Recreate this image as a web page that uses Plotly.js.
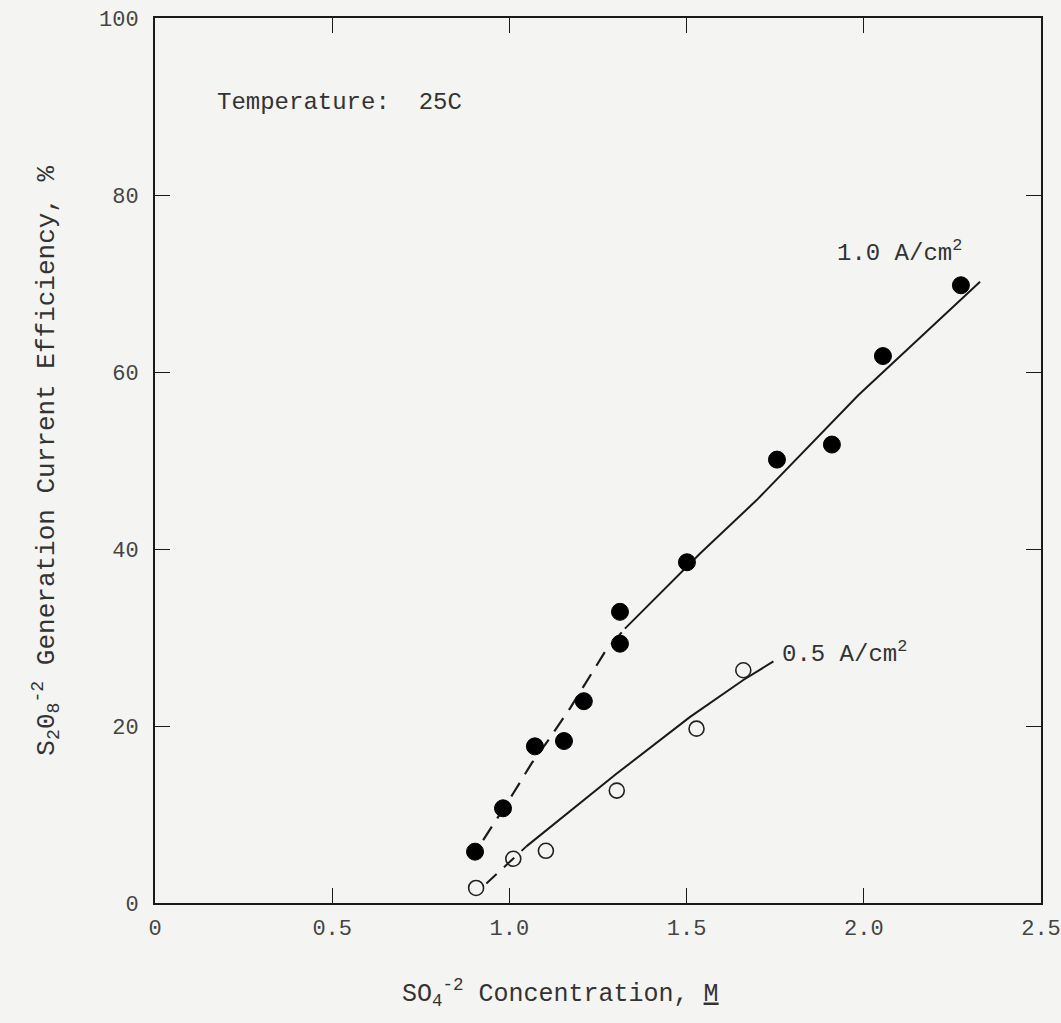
<!DOCTYPE html>
<html>
<head>
<meta charset="utf-8">
<script src="https://cdn.plot.ly/plotly-3.0.1.min.js"></script>
<style>
html,body{margin:0;padding:0;background:#f4f4f2;}
#chart{width:1061px;height:1023px;}
</style>
</head>
<body>
<div id="chart"></div>
<script>
// Measured points, 1.0 A/cm2 (filled circles)
const conc10 = [0.903, 0.982, 1.072, 1.154, 1.210, 1.312, 1.312, 1.501, 1.755, 1.910, 2.054, 2.274];
const eff10  = [5.8, 10.7, 17.7, 18.3, 22.8, 29.3, 32.9, 38.5, 50.1, 51.8, 61.8, 69.8];

// Measured points, 0.5 A/cm2 (open circles)
const conc05 = [0.906, 1.011, 1.103, 1.303, 1.528, 1.660];
const eff05  = [1.7, 5.0, 5.9, 12.7, 19.7, 26.3];

// Drawn curve, 1.0 A/cm2: dashed lower part, solid upper part
const curve10DashX = [0.926, 1.011, 1.063, 1.110, 1.171, 1.218, 1.270, 1.326];
const curve10DashY = [7.1, 12.4, 15.8, 18.4, 22.0, 25.0, 28.4, 31.0];
const curve10SolidX = [1.326, 1.472, 1.538, 1.697, 1.985, 2.328];
const curve10SolidY = [31.0, 36.9, 39.5, 45.5, 57.4, 70.2];

// Drawn curve, 0.5 A/cm2: short dashed start, then solid
const curve05DashX = [0.935, 1.048];
const curve05DashY = [2.2, 6.4];
const curve05SolidX = [1.048, 1.302, 1.509, 1.660, 1.745];
const curve05SolidY = [6.4, 14.6, 21.0, 25.2, 27.3];

const xTickVals = [0, 0.5, 1.0, 1.5, 2.0, 2.5];
const xTickText = ['0', '0.5', '1.0', '1.5', '2.0', '2.5'];
const yTickVals = [0, 20, 40, 60, 80, 100];
const yTickText = ['0', '20', '40', '60', '80', '100'];

const xTitle = 'SO<sub>4</sub><sup>-2</sup> Concentration, <u>M</u>';
const yTitle = 'S<sub>2</sub>0<sub>8</sub><sup>-2</sup> Generation Current Efficiency, %';

const ink = '#1a1a1a';
const txt = '#333333';
const fontFam = 'Liberation Mono, DejaVu Sans Mono, monospace';

const traces = [
  {x: curve10DashX, y: curve10DashY, mode: 'lines', line: {color: ink, width: 2.2, dash: '16px,10px'}, hoverinfo: 'skip', showlegend: false},
  {x: curve10SolidX, y: curve10SolidY, mode: 'lines', line: {color: ink, width: 2}, hoverinfo: 'skip', showlegend: false},
  {x: curve05DashX, y: curve05DashY, mode: 'lines', line: {color: ink, width: 2, dash: '14px,10px'}, hoverinfo: 'skip', showlegend: false},
  {x: curve05SolidX, y: curve05SolidY, mode: 'lines', line: {color: ink, width: 2}, hoverinfo: 'skip', showlegend: false},
  {x: conc10, y: eff10, mode: 'markers', name: '1.0 A/cm²',
   marker: {symbol: 'circle', size: 17, color: '#000', line: {color: '#000', width: 1}}, showlegend: false},
  {x: conc05, y: eff05, mode: 'markers', name: '0.5 A/cm²',
   marker: {symbol: 'circle-open', size: 15, color: '#222', line: {color: '#222', width: 1.6}}, showlegend: false}
];

const layout = {
  width: 1061, height: 1023,
  paper_bgcolor: '#f4f4f2', plot_bgcolor: '#f4f4f2',
  margin: {l: 155, r: 20, t: 18, b: 120},
  font: {family: fontFam, color: txt, size: 22},
  xaxis: {
    range: [0, 2.5], tickvals: xTickVals, ticktext: xTickText,
    showgrid: false, zeroline: false,
    showline: true, linecolor: ink, linewidth: 2, mirror: 'ticks',
    ticks: 'inside', ticklen: 15, tickwidth: 1, tickcolor: ink,
    ticklabelstandoff: 4,
    tickfont: {family: fontFam, size: 22, color: '#444'}
  },
  yaxis: {
    range: [0, 100], tickvals: yTickVals, ticktext: yTickText,
    showgrid: false, zeroline: false,
    showline: true, linecolor: ink, linewidth: 2, mirror: 'ticks',
    ticks: 'inside', ticklen: 15, tickwidth: 1, tickcolor: ink,
    ticklabelstandoff: 10,
    tickfont: {family: fontFam, size: 22, color: '#444'}
  },
  annotations: [
    {x: 0.17, y: 90.4, xref: 'x', yref: 'y', xanchor: 'left', yanchor: 'middle', showarrow: false,
     text: 'Temperature:  25C', font: {family: fontFam, size: 24, color: txt}},
    {x: 1.92, y: 73.6, xref: 'x', yref: 'y', xanchor: 'left', yanchor: 'middle', showarrow: false,
     text: '1.0 A/cm<sup>2</sup>', font: {family: fontFam, size: 24, color: txt}},
    {x: 1.763, y: 28.3, xref: 'x', yref: 'y', xanchor: 'left', yanchor: 'middle', showarrow: false,
     text: '0.5 A/cm<sup>2</sup>', font: {family: fontFam, size: 24, color: txt}},
    {x: 0.458, y: -0.102, xref: 'paper', yref: 'paper', xanchor: 'center', yanchor: 'middle', showarrow: false,
     text: xTitle, font: {family: fontFam, size: 25, color: txt}},
    {x: -0.124, y: 0.50, xref: 'paper', yref: 'paper', xanchor: 'center', yanchor: 'middle', showarrow: false,
     textangle: -90, text: yTitle, font: {family: fontFam, size: 26, color: txt}}
  ]
};

Plotly.newPlot('chart', traces, layout, {staticPlot: true, displayModeBar: false});
</script>
</body>
</html>
